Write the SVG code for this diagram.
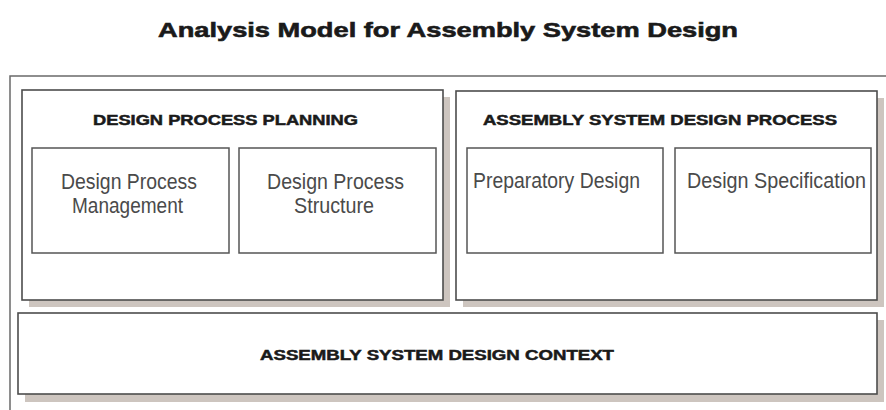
<svg xmlns="http://www.w3.org/2000/svg" width="886" height="410" viewBox="0 0 886 410">
  <style>
    .title { font-family: "Liberation Sans", Arial, sans-serif; font-weight: bold; font-size: 21px; fill: #1a1a1a; stroke: #1a1a1a; stroke-width: 0.6; }
    .head { font-family: "Liberation Sans", Arial, sans-serif; font-weight: bold; font-size: 14.5px; fill: #1a1a1a; stroke: #1a1a1a; stroke-width: 0.5; }
    .label { font-family: "Liberation Sans", Arial, sans-serif; font-size: 22px; fill: #4a4a4a; }
    .panel { fill: #ffffff; stroke: #4d4d4d; stroke-width: 1.6; }
    .box { fill: #ffffff; stroke: #555555; stroke-width: 1.5; }
    .shadow { fill: #cdc5bf; }
    .frame { fill: none; stroke: #6a6a6a; stroke-width: 1.5; }
  </style>

  <rect x="0" y="0" width="886" height="410" fill="#ffffff"/>

  <text class="title" x="158" y="37" textLength="580" lengthAdjust="spacingAndGlyphs">Analysis Model for Assembly System Design</text>

  <!-- outer frame: top and left edges -->
  <path class="frame" d="M10,410 V76 H886"/>

  <!-- drop shadows -->
  <rect class="shadow" x="29" y="97" width="421" height="210"/>
  <rect class="shadow" x="463" y="98" width="421" height="209"/>
  <rect class="shadow" x="25" y="320" width="859" height="82"/>

  <g id="design-process-planning">
    <rect class="panel" x="22" y="90" width="421" height="210"/>
    <text class="head" x="93" y="125" textLength="265" lengthAdjust="spacingAndGlyphs">DESIGN PROCESS PLANNING</text>
  </g>

  <g id="design-process-management">
    <rect class="box" x="32" y="148" width="197" height="105"/>
    <text class="label" x="61" y="189" textLength="136" lengthAdjust="spacingAndGlyphs">Design Process</text>
    <text class="label" x="72" y="213" textLength="111" lengthAdjust="spacingAndGlyphs">Management</text>
  </g>

  <g id="design-process-structure">
    <rect class="box" x="239" y="148" width="197" height="105"/>
    <text class="label" x="267" y="189" textLength="137" lengthAdjust="spacingAndGlyphs">Design Process</text>
    <text class="label" x="294" y="213" textLength="80" lengthAdjust="spacingAndGlyphs">Structure</text>
  </g>

  <g id="assembly-system-design-process">
    <rect class="panel" x="456" y="91" width="421" height="209"/>
    <text class="head" x="483" y="125" textLength="354" lengthAdjust="spacingAndGlyphs">ASSEMBLY SYSTEM DESIGN PROCESS</text>
  </g>

  <g id="preparatory-design">
    <rect class="box" x="467" y="148" width="196" height="105"/>
    <text class="label" x="473" y="188" textLength="167" lengthAdjust="spacingAndGlyphs">Preparatory Design</text>
  </g>

  <g id="design-specification">
    <rect class="box" x="675" y="148" width="196" height="105"/>
    <text class="label" x="687" y="188" textLength="179" lengthAdjust="spacingAndGlyphs">Design Specification</text>
  </g>

  <g id="assembly-system-design-context">
    <rect class="panel" x="18" y="313" width="859" height="81"/>
    <text class="head" x="260" y="360" textLength="354" lengthAdjust="spacingAndGlyphs">ASSEMBLY SYSTEM DESIGN CONTEXT</text>
  </g>

  <g id="connectors"></g>
</svg>
